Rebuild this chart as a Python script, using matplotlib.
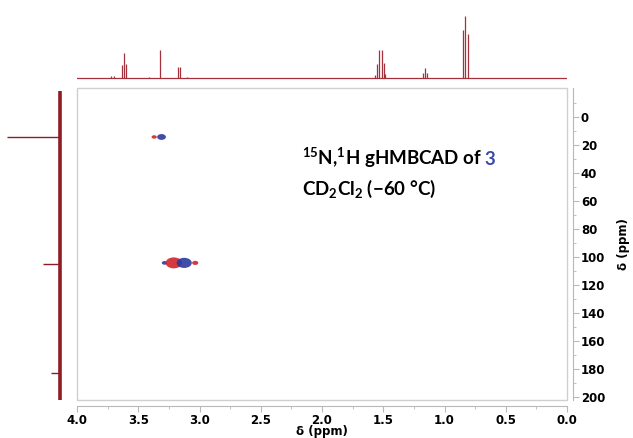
import matplotlib
matplotlib.use('Agg')
import matplotlib.pyplot as plt
from matplotlib.path import Path
from matplotlib.transforms import Affine2D
from matplotlib.patches import Rectangle

# 1H projection (top): line positions (ppm) and heights (arb.)
h_ppm = [3.72, 3.70, 3.631, 3.615, 3.598, 3.41, 3.32, 3.172, 3.162, 3.104,
         1.566, 1.552, 1.533, 1.514, 1.497, 1.482, 1.178, 1.161, 1.145,
         0.850, 0.830, 0.811]
h_int = [2, 2, 13, 24.7, 14, 1, 28, 11.3, 11.3, 1,
         3, 14, 28, 28.5, 15, 4, 5, 10, 5,
         48, 62, 43.7]

# 15N projection (left): shifts (ppm) and intensities (arb.)
n_ppm = [14, 105, 183]
n_int = [53, 17, 9]

# cross peaks: 1H shift, 15N shift, phase (+1 red, -1 blue), size
xp_h = [3.37, 3.31, 3.285, 3.21, 3.125, 3.035]
xp_n = [14, 14, 104, 104, 104, 104]
xp_sign = [1, -1, -1, 1, -1, 1]
xp_size = [14, 40, 16, 140, 120, 20]

red = '#d0262b'
blue = '#2d3a9c'
trace = '#a3303a'
grey = '#b8b8b8'

plt.rcParams['font.family'] = ['DejaVu Sans']
plt.rcParams['mathtext.fontset'] = 'custom'
plt.rcParams['mathtext.rm'] = 'Lato:bold'
plt.rcParams['mathtext.bf'] = 'Lato:bold'

fig = plt.figure(figsize=(6.33, 4.38), dpi=100)
W, H = 633.0, 438.0

# main 2D axes
ax = fig.add_axes([77/W, 1-400/H, 490/W, 312/H])
ax.set_xlim(4.0, 0.0)
ax.set_ylim(202, -21)

ell = Path.unit_circle().transformed(Affine2D().scale(1.5, 1.0))
for x, y, s, sz in zip(xp_h, xp_n, xp_sign, xp_size):
    ax.scatter([x], [y], s=sz, marker=ell, color=red if s > 0 else blue,
               edgecolors='none', alpha=0.9, zorder=3)

for sp in ['left', 'top']:
    ax.spines[sp].set_visible(False)
for sp in ['right', 'bottom']:
    ax.spines[sp].set_position(('outward', 4))
    ax.spines[sp].set_color(grey)
ax.add_patch(Rectangle((0, 0), 1, 1, transform=ax.transAxes, fill=False,
                       edgecolor='#d0d0d0', lw=1, clip_on=False))

ax.yaxis.tick_right()
ax.yaxis.set_label_position('right')
ax.set_xticks([4.0, 3.5, 3.0, 2.5, 2.0, 1.5, 1.0, 0.5, 0.0])
ax.set_xticks([3.75, 3.25, 2.75, 2.25, 1.75, 1.25, 0.75, 0.25], minor=True)
ax.set_yticks(range(0, 201, 20))
ax.set_yticks(range(-10, 201, 10), minor=True)
ax.tick_params(axis='both', which='major', labelsize=8.5, length=4,
               color=grey, pad=2)
ax.tick_params(axis='both', which='minor', length=2, color=grey)
for lab in ax.get_xticklabels() + ax.get_yticklabels():
    lab.set_fontweight('bold')
ax.set_xlabel('δ (ppm)', fontsize=8.5, fontweight='bold', labelpad=-1)
ax.set_ylabel('δ (ppm)', fontsize=8.5, fontweight='bold', labelpad=8)

t1 = ax.text(2.16, 34, r'$^{15}$N,$^{1}$H gHMBCAD of', fontsize=13.5,
             family='Lato', fontweight='bold', va='baseline', ha='left')
ax.text(2.16, 55, r'CD$_2$Cl$_2$ (−60 °C)', fontsize=13.5, family='Lato',
        fontweight='bold', va='baseline', ha='left')

# put the blue compound number right after the first line
fig.canvas.draw()
bb = t1.get_window_extent()
x3 = ax.transData.inverted().transform((bb.x1 + 2, 0))[0]
ax.text(x3, 34, '3', fontsize=13.5, family='Lato', fontweight='bold',
        color='#3a4aa8', va='baseline', ha='left')

# top 1H projection
axt = fig.add_axes([77/W, 1-80/H, 490/W, 68/H])
axt.set_xlim(4.0, 0.0)
axt.set_ylim(-2, 66)
axt.axhline(0, color=trace, lw=0.9)
axt.vlines(h_ppm, 0, h_int, color=trace, lw=0.9)
axt.axis('off')

# left 15N projection
axl = fig.add_axes([0, 1-400/H, 62/W, 312/H])
axl.set_ylim(202, -21)
axl.set_xlim(60, -2)
axl.vlines(0, -19, 204, color='#8e1c24', lw=2.6)
axl.hlines(n_ppm, 0, n_int, color='#8e1c24', lw=1.0)
axl.axis('off')

fig.savefig('out.png', dpi=100)
